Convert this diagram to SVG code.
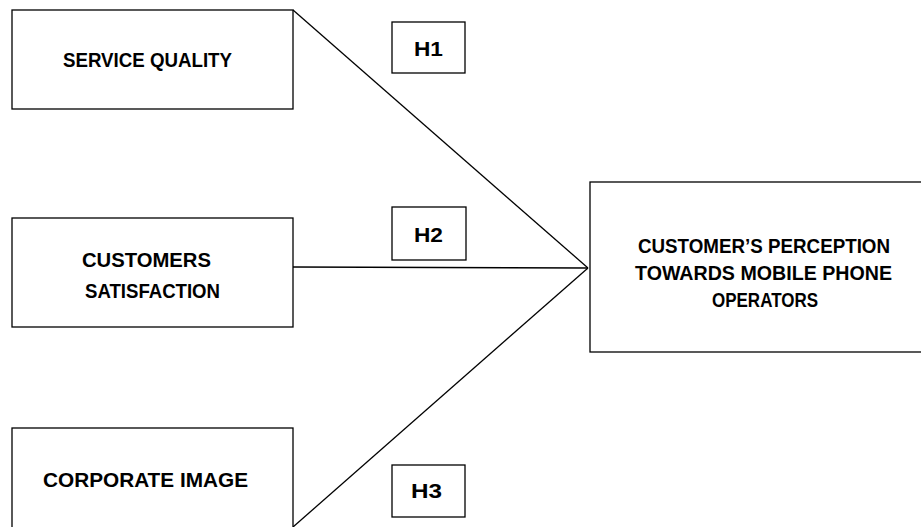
<svg xmlns="http://www.w3.org/2000/svg" width="921" height="527" viewBox="0 0 921 527">
  <style>
    .box { fill: #ffffff; stroke: #000000; stroke-width: 1.3; }
    .link { fill: none; stroke: #000000; stroke-width: 1.3; }
    .lbl { font-family: "Liberation Sans", Arial, sans-serif; font-weight: bold; font-size: 21px; fill: #000000; }
  </style>
  <rect x="0" y="0" width="921" height="527" fill="#ffffff"/>

  <!-- connectors -->
  <g id="connectors">
    <line class="link" x1="293" y1="10" x2="588" y2="268"/>
    <line class="link" x1="293" y1="267" x2="588" y2="268"/>
    <line class="link" x1="293" y1="527" x2="588" y2="268"/>
  </g>

  <g id="service-quality">
    <rect class="box" x="12" y="10" width="281" height="99"/>
    <text class="lbl" x="63" y="67" textLength="169" lengthAdjust="spacingAndGlyphs">SERVICE QUALITY</text>
  </g>

  <g id="customers-satisfaction">
    <rect class="box" x="12" y="218" width="281" height="109"/>
    <text class="lbl" x="82" y="267" textLength="129" lengthAdjust="spacingAndGlyphs">CUSTOMERS</text>
    <text class="lbl" x="85" y="298" textLength="135" lengthAdjust="spacingAndGlyphs">SATISFACTION</text>
  </g>

  <g id="corporate-image">
    <rect class="box" x="12" y="428" width="281" height="110"/>
    <text class="lbl" x="43" y="487" textLength="205" lengthAdjust="spacingAndGlyphs">CORPORATE IMAGE</text>
  </g>

  <g id="perception">
    <rect class="box" x="590" y="182" width="340" height="170"/>
    <text class="lbl" x="638" y="253" textLength="252" lengthAdjust="spacingAndGlyphs">CUSTOMER’S PERCEPTION</text>
    <text class="lbl" x="635" y="280" textLength="257" lengthAdjust="spacingAndGlyphs">TOWARDS MOBILE PHONE</text>
    <text class="lbl" x="712" y="307" textLength="106" lengthAdjust="spacingAndGlyphs">OPERATORS</text>
  </g>

  <g id="h1">
    <rect class="box" x="392" y="22" width="73" height="51"/>
    <text class="lbl" x="414" y="56" textLength="29" lengthAdjust="spacingAndGlyphs">H1</text>
  </g>

  <g id="h2">
    <rect class="box" x="392" y="207" width="74" height="53"/>
    <text class="lbl" x="414" y="242" textLength="29" lengthAdjust="spacingAndGlyphs">H2</text>
  </g>

  <g id="h3">
    <rect class="box" x="392" y="465" width="73" height="52"/>
    <text class="lbl" x="411" y="498" textLength="31" lengthAdjust="spacingAndGlyphs">H3</text>
  </g>
</svg>
